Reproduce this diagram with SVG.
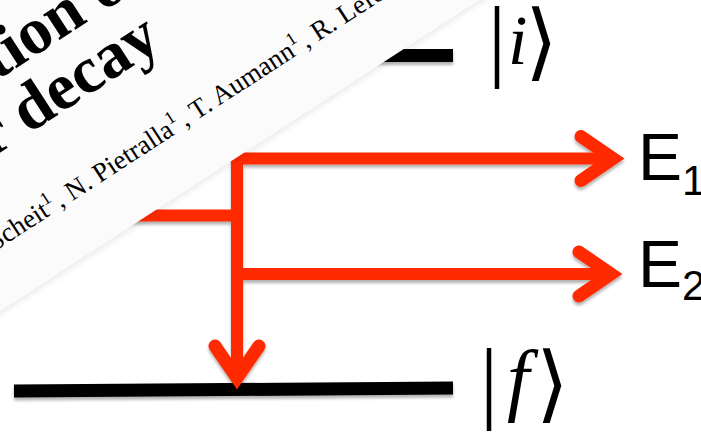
<svg xmlns="http://www.w3.org/2000/svg" width="701" height="432" viewBox="0 0 701 432">
<defs>
<style>
.red{stroke:#ff2a00;stroke-width:12;fill:none}
.lvl{stroke:#000;stroke-width:13;fill:none}
.ser{font-family:"Liberation Serif","Times New Roman",serif;fill:#000}
.it{font-family:"Liberation Serif","Times New Roman",serif;font-style:italic;fill:#000}
.ang{font-family:"DejaVu Sans",sans-serif;fill:#000}
.lab{font-family:"Liberation Sans",Arial,sans-serif;fill:#000}
.title{font-family:"Liberation Serif","Times New Roman",serif;font-weight:bold;font-size:66px;fill:#000}
.auth{font-family:"Liberation Serif","Times New Roman",serif;font-size:27px;fill:#000}
</style>
<filter id="sh" filterUnits="userSpaceOnUse" x="0" y="0" width="701" height="432"><feDropShadow dx="0" dy="3" stdDeviation="1.5" flood-color="#000" flood-opacity="0.3"/></filter>
<filter id="blur"><feGaussianBlur stdDeviation="3"/></filter>
<marker id="ah" markerUnits="userSpaceOnUse" orient="auto" overflow="visible" refX="0" refY="0" markerWidth="1" markerHeight="1">
<path d="M-32,-22 L0,0 L-32,22" fill="none" stroke="#ff2a00" stroke-width="13" stroke-linecap="round" stroke-linejoin="miter"/>
</marker>
</defs>
<rect width="701" height="432" fill="#fff"/>
<g id="connectors" filter="url(#sh)">
<line class="lvl" x1="300" y1="55.5" x2="453" y2="55.5"/>
<line class="lvl" x1="14" y1="391" x2="453" y2="388"/>
<path class="red" d="M100,215.5 H237"/>
<path class="red" d="M237,153 V378" marker-end="url(#ah)"/>
<path class="red" d="M231,158.5 H613" marker-end="url(#ah)"/>
<path class="red" d="M237,274 H611" marker-end="url(#ah)"/>
</g>
<g id="paper" transform="rotate(-33)">
<rect x="-500" y="-600" width="1200" height="864" fill="#000" opacity="0.08" filter="url(#blur)"/>
<rect x="-500" y="-600" width="1200" height="861" fill="#fbfbfb"/>
<text class="title" x="-80" y="66">ation of</text>
<text class="title" x="-94" y="128">r decay</text>
<text class="auth" y="208"><tspan x="-142">Scheit</tspan><tspan dy="-11" font-size="18">1</tspan><tspan dy="11" dx="3">, N. Pietralla</tspan><tspan dy="-11" font-size="18">1</tspan><tspan dy="11" dx="3">, T. Aumann</tspan><tspan dy="-11" font-size="18">1</tspan><tspan dy="11" dx="3">, R. Lefol</tspan></text>
</g>
<g id="level-i">
<text class="ser" x="488" y="70" font-size="90">|</text>
<text class="it" x="508" y="64" font-size="70">i</text>
<text class="ang" x="525" y="70" font-size="84">⟩</text>
</g>
<g id="level-f">
<text class="ser" x="480" y="412" font-size="90">|</text>
<text class="it" x="507" y="406" font-size="80">f</text>
<text class="ang" x="536" y="412" font-size="84">⟩</text>
</g>
<g id="label-E1">
<text class="lab" x="638" y="180" font-size="66">E<tspan x="682" y="195" font-size="42">1</tspan></text>
</g>
<g id="label-E2">
<text class="lab" x="638" y="287" font-size="66">E<tspan x="682" y="300" font-size="42">2</tspan></text>
</g>
</svg>
